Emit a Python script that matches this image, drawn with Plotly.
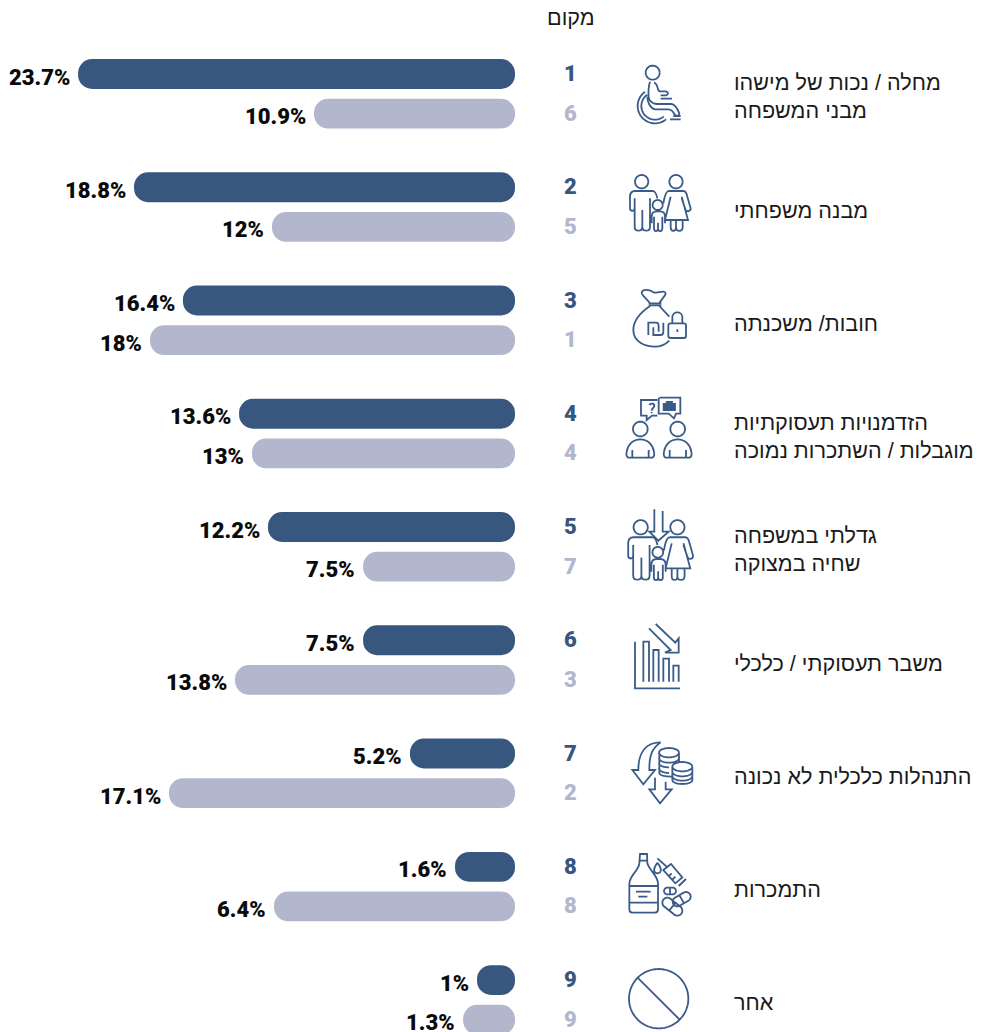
import math
import re
import plotly.graph_objects as go

W, H = 983, 1032
DARK, LIGHT, ICON = "#38577f", "#b2b7cd", "#3a5a88"

categories = [
    "מחלה / נכות של מישהו<br>מבני המשפחה",
    "מבנה משפחתי",
    "חובות/ משכנתה",
    "הזדמנויות תעסוקתיות<br>מוגבלות / השתכרות נמוכה",
    "גדלתי במשפחה<br>שחיה במצוקה",
    "משבר תעסוקתי / כלכלי",
    "התנהלות כלכלית לא נכונה",
    "התמכרות",
    "אחר",
]
labels_a = ["23.7%", "18.8%", "16.4%", "13.6%", "12.2%", "7.5%", "5.2%", "1.6%", "1%"]
labels_b = ["10.9%", "12%", "18%", "13%", "7.5%", "13.8%", "17.1%", "6.4%", "1.3%"]
# drawn bar lengths (the artwork is not strictly proportional)
length_a = [21.63, 18.86, 16.44, 13.66, 12.23, 7.52, 5.2, 2.97, 1.88]
length_b = [9.95, 12.03, 18.07, 13.02, 7.52, 13.86, 17.13, 11.93, 2.57]
rank_a = [1, 2, 3, 4, 5, 6, 7, 8, 9]
rank_b = [6, 5, 1, 4, 7, 3, 2, 8, 9]

SCALE = 20.2  # px per unit


def tf(path, ox, oy, s=1 / 3):
    """Map a path drawn in local units to paper coordinates."""
    out, isx = [], True
    for tok in re.findall(r"[MLQCZ]|-?\d+\.?\d*", path):
        if tok in "MLQCZ":
            out.append(tok)
            isx = True
        else:
            v = float(tok)
            if isx:
                out.append(f"{(ox + v * s) / W:.5f}")
            else:
                out.append(f"{1 - (oy + v * s) / H:.5f}")
            isx = not isx
    return " ".join(out)


def arc(cx, cy, r, a0=0, a1=360, n=48, start=True):
    pts = []
    for i in range(n + 1):
        a = math.radians(a0 + (a1 - a0) * i / n)
        pts.append((cx + r * math.cos(a), cy + r * math.sin(a)))
    head = "M" if start else "L"
    return f"{head} {pts[0][0]:.1f},{pts[0][1]:.1f} " + " ".join(f"L {x:.1f},{y:.1f}" for x, y in pts[1:])


def ell(cx, cy, rx, ry, a0=0, a1=360, n=32):
    pts = []
    for i in range(n + 1):
        a = math.radians(a0 + (a1 - a0) * i / n)
        pts.append((cx + rx * math.cos(a), cy + ry * math.sin(a)))
    return f"M {pts[0][0]:.1f},{pts[0][1]:.1f} " + " ".join(f"L {x:.1f},{y:.1f}" for x, y in pts[1:])


def capsule(x0, y0, x1, y1, r, mid=True):
    ang = math.degrees(math.atan2(y1 - y0, x1 - x0))
    p = arc(x0, y0, r, ang + 90, ang + 270, 16) + " " + arc(x1, y1, r, ang - 90, ang + 90, 16, start=False) + " Z"
    if mid:
        mx, my = (x0 + x1) / 2, (y0 + y1) / 2
        c, sn = math.cos(math.radians(ang)), math.sin(math.radians(ang))
        p += f" M {mx - sn * r:.1f},{my + c * r:.1f} L {mx + sn * r:.1f},{my - c * r:.1f}"
    return p


def family():
    # drawn in zoom units (3 per pixel); origin = icon 2 crop at (540,0)
    return " ".join([
        arc(305, 545, 20), arc(408, 545, 20), arc(353, 615, 15),
        "M 340,573 L 285,573 C 275,573 270,580 270,590 L 270,625 C 270,635 284,635 284,625 L 284,595",
        "M 284,600 L 284,680 C 284,696 307,696 307,680 L 307,630 L 307,680 C 307,696 330,696 330,680 L 330,595",
        "M 340,573 C 345,575 350,585 352,595",
        "M 385,573 L 430,573 C 438,573 440,580 442,590 L 452,625 C 452,635 440,637 436,628 L 425,595",
        "M 385,573 C 378,575 375,585 372,600 L 370,610",
        "M 392,590 L 375,660 L 444,660 L 425,590",
        "M 392,660 L 392,682 C 392,696 408,696 408,682 L 408,660 L 408,682 C 408,696 428,696 428,682 L 428,660",
        "M 335,670 L 335,650 C 335,636 342,634 350,634 L 360,634 C 370,634 375,640 375,650 L 375,670",
        "M 342,650 L 342,685 C 342,696 354,696 354,685 L 354,668 L 354,685 C 354,696 367,696 367,685 L 367,650",
    ])


icon_paths = [
    # wheelchair
    tf(" ".join([
        arc(338, 218, 21),
        "M 330,245 C 325,260 325,280 326,292 C 328,305 340,312 352,312 L 395,312 C 405,314 412,325 418,340 C 418,348 410,348 405,345 C 400,335 395,328 385,328 L 345,328 C 330,325 322,305 322,290",
        "M 342,248 C 350,250 352,258 354,268 L 358,274 L 378,274 C 386,276 386,284 378,286 L 362,286 M 362,296 L 396,296",
        arc(345, 318, 52, 50, 235, 40), arc(345, 318, 41, 50, 235, 40),
        "M 390,358 L 422,358 M 400,348 L 422,348",
    ]), 540, 0),
    # family
    tf(family(), 540, 0),
    # money bag and lock
    tf(" ".join([
        "M 150,100 C 140,85 125,76 125,68 C 128,56 150,58 162,68 C 172,70 195,58 197,70 C 197,78 182,90 178,100",
        "M 146,100 L 184,100 M 146,106 L 184,106",
        "M 150,108 C 125,125 100,150 100,180 C 100,215 135,230 165,230 C 180,230 198,222 208,212",
        "M 178,108 L 208,140",
        "M 145,195 L 145,158 L 168,158 C 175,158 176,162 176,168 L 176,185",
        "M 160,172 L 160,195 L 182,195 C 188,195 190,190 190,185 L 190,158",
        "M 212,160 L 252,160 C 256,160 258,162 258,166 L 258,198 C 258,202 256,204 252,204 L 212,204 C 208,204 205,202 205,198 L 205,166 C 205,162 208,160 212,160",
        "M 217,160 L 217,142 C 217,122 247,122 247,142 L 247,160",
        "M 232,178 L 232,186",
    ]), 600, 270),
    # speech bubbles and people
    tf(" ".join([
        "M 172,390 L 123,390 L 123,437 L 140,437 L 140,450 L 156,437 L 172,437",
        "M 148,405 C 152,398 163,400 163,407 C 163,414 155,414 155,422 M 155,426 L 155,430",
        "M 178,383 L 241,383 L 241,431 L 228,431 L 222,445 L 206,431 L 176,431 L 176,383",
        "M 191,402 L 225,402 L 225,420 L 191,420 Z M 191,407 L 225,407 M 191,411 L 225,411 M 191,415 L 225,415 M 200,402 L 200,396 L 216,396 L 216,402",
        arc(121, 477, 22), arc(233, 477, 22),
        "M 85,563 C 78,560 78,555 80,545 C 84,522 100,508 121,508 C 142,508 158,522 162,545 C 164,555 164,560 157,563 Z M 97,540 L 97,563 M 146,540 L 146,563",
        "M 197,563 C 190,560 190,555 192,545 C 196,522 212,508 233,508 C 254,508 270,522 274,545 C 276,555 276,560 269,563 Z M 209,540 L 209,563 M 258,540 L 258,563",
    ]), 600, 270),
    # family with arrow
    tf(family(), 531.9, 332.9, 1.07 / 3),
    tf("M 163,28 L 163,95 L 148,95 L 175,122 L 206,95 L 188,95 L 188,33", 600, 500),
    # falling chart
    tf(" ".join([
        "M 105,425 L 105,565 L 240,565",
        "M 130,545 L 130,425 L 147,425 L 147,545",
        "M 160,545 L 160,450 L 176,450 L 176,545",
        "M 190,545 L 190,476 L 207,476 L 207,545",
        "M 220,545 L 220,497 L 236,497 L 236,545",
        "M 147,385 L 212,450 L 195,458 L 236,458 L 236,415 L 226,428 L 167,372",
    ]), 600, 500),
    # money arrows and coins
    tf(" ".join([
        "M 182,37 C 140,37 115,65 115,120 L 97,120 L 130,163 L 165,120 L 148,120 C 148,85 150,60 182,37",
        "M 165,143 L 165,178 L 148,178 L 180,220 L 215,178 L 197,178 L 197,155",
        ell(207, 68, 30, 14),
        "M 178,68 L 178,130 C 180,136 195,140 215,140 M 237,68 L 237,95",
        ell(207, 84, 30, 14, 0, 180), ell(207, 100, 30, 12, 90, 180), ell(207, 115, 30, 14, 90, 180),
        ell(247, 110, 30, 14),
        "M 217,110 L 217,150 M 277,110 L 277,150",
        ell(247, 125, 30, 14, 0, 180), ell(247, 138, 30, 14, 0, 180), ell(247, 150, 30, 12, 0, 180),
    ]), 600, 730),
    # bottle, syringe, pills
    tf(" ".join([
        "M 120,372 L 141,372 L 142,400 C 150,425 174,435 174,462 L 174,538 C 174,545 170,548 165,548 L 97,548 C 92,548 88,545 88,538 L 88,462 C 88,435 115,425 118,400 Z",
        "M 118,392 L 142,392",
        "M 88,468 L 174,468 M 88,518 L 174,518 M 108,485 L 152,485 M 115,500 L 142,500",
        "M 172,385 L 200,410 M 190,420 L 213,402 L 247,442 L 226,460 Z M 236,468 L 258,447 M 205,440 L 215,430 M 216,450 L 226,440",
        "M 172,398 C 160,415 158,428 172,430 C 187,428 185,415 172,398",
        capsule(202, 483, 218, 483, 10),
        capsule(232, 515, 258, 500, 14),
        capsule(202, 518, 232, 542, 15),
    ]), 600, 730),
    # other: no-sign
    tf(arc(176, 806, 89, n=96) + " M 115,745 L 238,868", 600, 730),
]

fig = go.Figure()
for lengths, color in [(length_a, DARK), (length_b, LIGHT)]:
    fig.add_trace(go.Bar(y=categories, x=lengths, base=0, orientation="h",
                         marker_color=color, marker_line_width=0, hoverinfo="skip"))

annotations = []
num_font = dict(family="Roboto, sans-serif", size=22, color="#0a0a0a", weight=900)
text_font = dict(family="Liberation Sans, sans-serif", size=21.6, color="#1a1a1a")
for i, cat in enumerate(categories):
    for lab, ln, rk, col, dy in [
        (labels_a[i], length_a[i], rank_a[i], DARK, -19.85),
        (labels_b[i], length_b[i], rank_b[i], LIGHT, 19.85),
    ]:
        annotations.append(dict(x=ln, y=i, xref="x", yref="y", yshift=-dy - 3, text=lab, showarrow=False,
                                xanchor="right", xshift=-6, font=num_font))
        annotations.append(dict(x=570 / W, y=i, xref="paper", yref="y", yshift=-dy + 0.5, text=str(rk), showarrow=False,
                                xanchor="center", font=dict(family="Roboto, sans-serif", size=22, color=col, weight=900)))
    annotations.append(dict(x=735 / W, y=i, xref="paper", yref="y", yshift=-3, text=cat, showarrow=False,
                            xanchor="left", align="left", xshift=-3, font=text_font))
annotations.append(dict(x=571 / W, y=1 - 17 / H, xref="paper", yref="paper", text="מקום", showarrow=False,
                        xanchor="center", yanchor="middle", font=text_font))

fig.update_layout(
    width=W, height=H, margin=dict(l=0, r=0, t=0, b=0),
    paper_bgcolor="white", plot_bgcolor="white", showlegend=False,
    barmode="group", bargap=0.299, bargroupgap=0.25, barcornerradius=15,
    xaxis=dict(range=[515 / SCALE, (515 - W) / SCALE], visible=False, fixedrange=True),
    yaxis=dict(range=[8.2838, -0.8287], visible=False, fixedrange=True, type="category",
               categoryorder="array", categoryarray=categories),
    annotations=annotations,
    shapes=[dict(type="path", path=p, xref="paper", yref="paper", line=dict(color=ICON, width=1.8),
                 fillcolor="rgba(0,0,0,0)") for p in icon_paths],
)
fig.write_html("out.html", config=dict(displayModeBar=False),
               post_script="document.body.style.margin='0';document.documentElement.style.overflow='hidden';")
